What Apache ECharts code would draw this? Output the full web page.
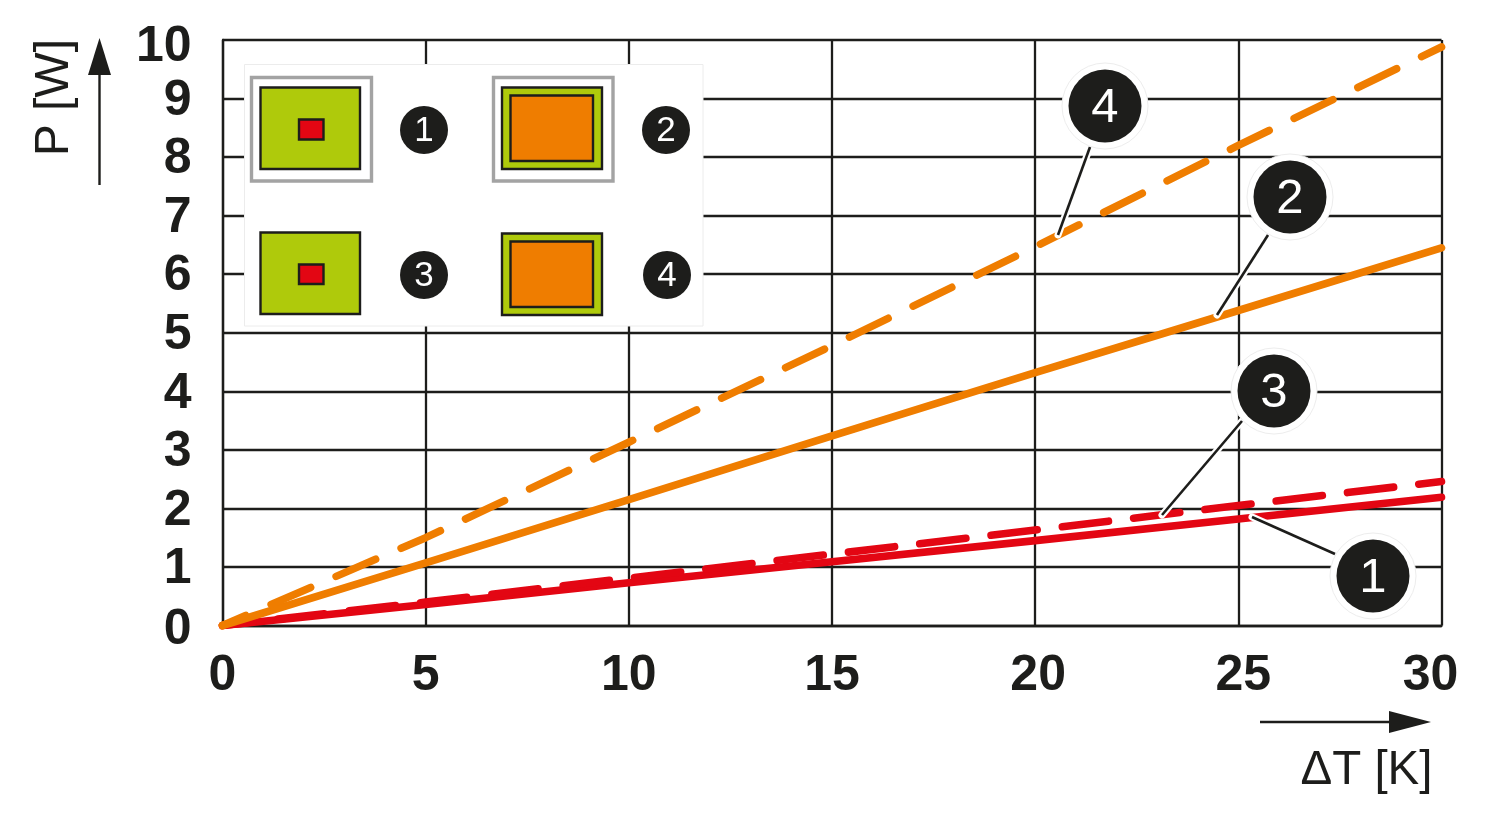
<!DOCTYPE html>
<html>
<head>
<meta charset="utf-8">
<style>html,body{margin:0;padding:0;background:#fff}#c{width:1500px;height:820px}</style>
<script src="https://cdn.jsdelivr.net/npm/echarts@6/dist/echarts.min.js"></script>
</head>
<body>
<div id="c"></div>
<script>
const deltaT = [0, 5, 10, 15, 20, 25, 30];
const curve1 = [0, 0.36, 0.73, 1.09, 1.45, 1.82, 2.19];
const curve2 = [0, 1.07, 2.15, 3.24, 4.32, 5.38, 6.45];
const curve3 = [0, 0.40, 0.81, 1.22, 1.63, 2.05, 2.46];
const curve4 = [0, 1.50, 3.13, 4.78, 6.47, 8.20, 9.88];
const curveNames = ['1', '2', '3', '4'];
const xAxisTitle = 'ΔT [K]';
const yAxisTitle = 'P [W]';

const INK = '#1d1d1b', RED = '#e30613', ORANGE = '#ef7d00', GREEN = '#afca0b', GREY = '#a3a3a3';
const FONT = '"Liberation Sans", Arial, sans-serif';

function pairs(ys) { return deltaT.map((x, i) => [x, ys[i]]); }
function curve(name, ys, color, dash, offset, z) {
  return {
    name, type: 'line', data: pairs(ys), showSymbol: false, clip: false, z,
    animation: false, silent: true,
    lineStyle: {
      color, width: 7.6, cap: 'round', join: 'round',
      type: dash || 'solid', dashOffset: offset || 0
    }
  };
}

function rect(x1, y1, x2, y2, fill, stroke, lw) {
  return { type: 'rect', z: 100, silent: true,
    shape: { x: x1, y: y1, width: x2 - x1, height: y2 - y1 },
    style: { fill, stroke, lineWidth: lw } };
}
function disc(cx, cy, r, fill, stroke) {
  return { type: 'circle', z: 100, silent: true, shape: { cx, cy, r },
    style: { fill, stroke: stroke || null, lineWidth: stroke ? 1 : 0 } };
}
function num(cx, cy, t, size) {
  return { type: 'text', z: 101, silent: true, x: cx, y: cy,
    style: { text: t, fill: '#fff', font: `${size}px ${FONT}`, align: 'center', verticalAlign: 'middle' } };
}
function seg(x1, y1, x2, y2, color, w, cap) {
  return { type: 'line', z: 100, silent: true, shape: { x1, y1, x2, y2 },
    style: { stroke: color, lineWidth: w, lineCap: cap || 'butt' } };
}
function callout(cx, cy, t, ax, ay, bx, by) {
  return [
    seg(ax, ay, bx, by, '#fff', 7, 'round'),
    seg(ax, ay, bx, by, INK, 2.6),
    disc(cx, cy, 43, '#fff', '#ededed'),
    disc(cx, cy, 36.5, INK),
    num(cx, cy + 2, t, 49)
  ];
}
function poly(points) {
  return { type: 'polygon', z: 100, silent: true, shape: { points }, style: { fill: INK } };
}

const graphics = [
  rect(244.5, 64.5, 703, 326, '#fff', '#ececec', 1),
  rect(251.5, 77.5, 371.5, 181, '#fff', GREY, 3.4),
  rect(260.5, 87.5, 360, 169, GREEN, INK, 2.4),
  rect(299, 119.5, 323.5, 139.5, RED, INK, 2.4),
  disc(424, 130, 24, INK), num(424, 131.5, curveNames[0], 35),
  rect(493.5, 77.5, 613, 181, '#fff', GREY, 3.4),
  rect(502, 87.5, 602, 169, GREEN, INK, 2.4),
  rect(510.5, 95.5, 593, 161, ORANGE, INK, 2.4),
  disc(666, 130, 24, INK), num(666, 131.5, curveNames[1], 35),
  rect(260.5, 232.5, 360, 314, GREEN, INK, 2.4),
  rect(299, 264.5, 323.5, 284, RED, INK, 2.4),
  disc(424, 275, 24, INK), num(424, 276.5, curveNames[2], 35),
  rect(502, 233.5, 602, 315, GREEN, INK, 2.4),
  rect(510.5, 241.5, 593, 307, ORANGE, INK, 2.4),
  disc(667, 275, 24, INK), num(667, 276.5, curveNames[3], 35),
  ...callout(1105, 106, curveNames[3], 1090, 147, 1058, 235),
  ...callout(1290, 197, curveNames[1], 1268, 235, 1217, 315),
  ...callout(1274, 391, curveNames[2], 1242, 421, 1162, 515),
  ...callout(1373, 576, curveNames[0], 1335, 554, 1252, 517),
  seg(99.5, 185, 99.5, 70, INK, 2.4),
  poly([[99.5, 38], [88, 75], [111, 75]]),
  seg(1260, 722, 1392, 722, INK, 2.4),
  poly([[1431, 722], [1389, 711], [1389, 733]])
];

const tickFont = { color: INK, fontFamily: FONT, fontWeight: 'bold', fontSize: 50 };
const gridLine = { show: true, lineStyle: { color: INK, width: 2.3, type: 'solid' } };

const chart = echarts.init(document.getElementById('c'), null, { renderer: 'canvas' });
chart.setOption({
  animation: false,
  backgroundColor: '#fff',
  legend: { show: false },
  tooltip: { show: false },
  grid: { left: 222.5, top: 40, width: 1219, height: 585.5, containLabel: false },
  xAxis: {
    type: 'value', min: 0, max: 30, interval: 5,
    name: xAxisTitle, nameLocation: 'end', nameGap: -9,
    nameTextStyle: { color: INK, fontFamily: FONT, fontSize: 47.5, align: 'right', verticalAlign: 'top', padding: [121, 0, 0, 0] },
    axisLine: { show: true, onZero: false, lineStyle: { color: INK, width: 2.3 } },
    axisTick: { show: false },
    axisLabel: {
      ...tickFont, margin: 26,
      formatter: v => v === 30 ? `{last|${v}}` : v === 25 ? `{r5|${v}}` : v === 20 ? `{r3|${v}}` : `${v}`,
      rich: {
        last: { ...tickFont, padding: [0, 22, 0, 0] },
        r5: { ...tickFont, padding: [0, 0, 0, 10] },
        r3: { ...tickFont, padding: [0, 0, 0, 6] }
      }
    },
    splitLine: gridLine
  },
  yAxis: {
    type: 'value', min: 0, max: 10, interval: 1,
    name: yAxisTitle, nameLocation: 'end', nameGap: 1, nameRotate: 90,
    nameTextStyle: { color: INK, fontFamily: FONT, fontSize: 48, align: 'right', verticalAlign: 'bottom', padding: [0, 0, 144, 0] },
    axisLine: { show: true, onZero: false, lineStyle: { color: INK, width: 2.3 } },
    axisTick: { show: false },
    axisLabel: {
      ...tickFont, margin: 31,
      formatter: v => v === 10 ? `{top|${v}}` : v === 0 ? `{bot|${v}}` : `{mid|${v}}`,
      rich: {
        top: { ...tickFont, padding: [14, 0, 0, 0] },
        bot: { ...tickFont, padding: [10, 0, 0, 0] },
        mid: { ...tickFont, padding: [5, 0, 0, 0] }
      }
    },
    splitLine: gridLine
  },
  series: [
    curve(curveNames[0], curve1, RED, null, 0, 3),
    curve(curveNames[2], curve3, RED, [46.5, 25.3], 16, 3),
    curve(curveNames[1], curve2, ORANGE, null, 0, 4),
    curve(curveNames[3], curve4, ORANGE, [43, 27.8], 17.8, 4)
  ],
  graphic: graphics
});
</script>
</body>
</html>
